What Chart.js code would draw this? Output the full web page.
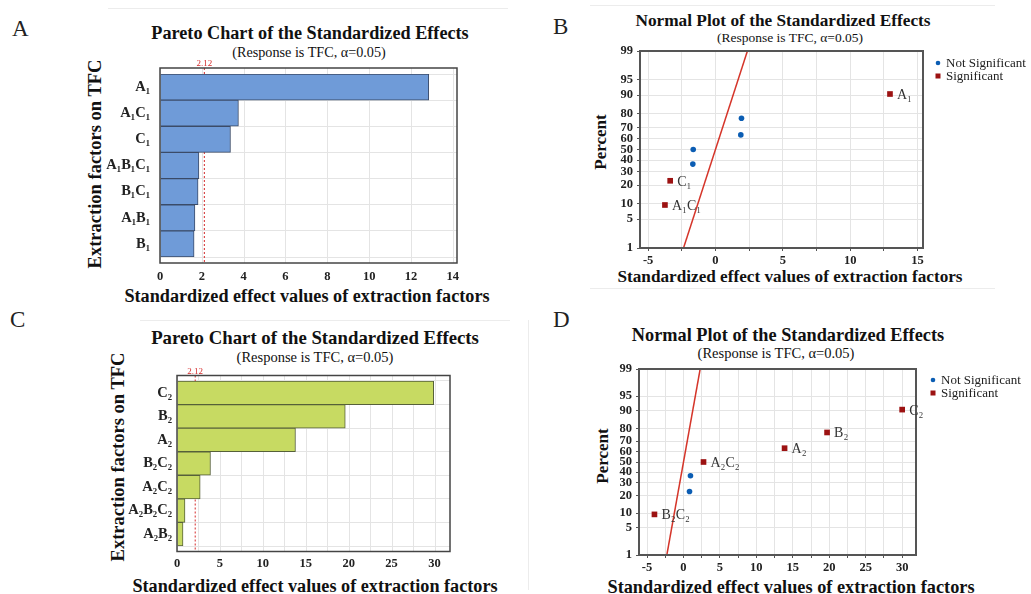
<!DOCTYPE html>
<html>
<head>
<meta charset="utf-8">
<script src="https://cdn.jsdelivr.net/npm/chart.js@4.4.1/dist/chart.umd.min.js"></script>
<style>
  html, body { margin: 0; padding: 0; background: #fff; width: 1031px; height: 594px; overflow: hidden; }
  body { position: relative; font-family: "Liberation Serif", "Times New Roman", serif; color: #111; }
  canvas { position: absolute; }
  .tag { position: absolute; font-size: 23px; color: #222; line-height: 1; }
  .rule { position: absolute; background: #ececec; }
  .t { position: absolute; white-space: nowrap; line-height: 1; transform: translate(-50%, -50%); }
  .b { font-weight: bold; }
  .v { transform: translate(-50%, -50%) rotate(-90deg); }
</style>
</head>
<body>
<div class="rule" style="left:108px;top:8px;width:400px;height:1px"></div>
<div class="rule" style="left:590px;top:5px;width:405px;height:1px"></div>
<div class="rule" style="left:590px;top:288px;width:405px;height:1px"></div>
<div class="rule" style="left:140px;top:320px;width:370px;height:1px"></div>
<div class="rule" style="left:528px;top:320px;width:1px;height:270px"></div>

<div class="tag" style="left:12px;top:17px">A</div>
<div class="tag" style="left:553px;top:15px">B</div>
<div class="tag" style="left:10px;top:308px">C</div>
<div class="tag" style="left:553px;top:308px">D</div>

<!-- panel A texts -->
<div class="t b" style="left:310px;top:33px;font-size:18.2px">Pareto Chart of the Standardized Effects</div>
<div class="t" style="left:309px;top:52px;font-size:14.2px">(Response is TFC, α=0.05)</div>
<div class="t b" style="left:307px;top:296px;font-size:18.2px">Standardized effect values of extraction factors</div>
<div class="t b v" style="left:95px;top:164px;font-size:18.5px">Extraction factors on TFC</div>

<!-- panel B texts -->
<div class="t b" style="left:783px;top:21px;font-size:17.3px">Normal Plot of the Standardized Effects</div>
<div class="t" style="left:790px;top:38px;font-size:13.5px">(Response is TFC, α=0.05)</div>
<div class="t b" style="left:790px;top:277px;font-size:17.2px">Standardized effect values of extraction factors</div>
<div class="t b v" style="left:600px;top:142px;font-size:17px">Percent</div>

<!-- panel C texts -->
<div class="t b" style="left:315px;top:338px;font-size:18.8px">Pareto Chart of the Standardized Effects</div>
<div class="t" style="left:315px;top:357px;font-size:14.5px">(Response is TFC, α=0.05)</div>
<div class="t b" style="left:315px;top:586px;font-size:18.2px">Standardized effect values of extraction factors</div>
<div class="t b v" style="left:118px;top:457px;font-size:18.5px">Extraction factors on TFC</div>

<!-- panel D texts -->
<div class="t b" style="left:788px;top:335px;font-size:18.3px">Normal Plot of the Standardized Effects</div>
<div class="t" style="left:776px;top:353px;font-size:14.5px">(Response is TFC, α=0.05)</div>
<div class="t b" style="left:791px;top:587px;font-size:18.3px">Standardized effect values of extraction factors</div>
<div class="t b v" style="left:602px;top:456px;font-size:17px">Percent</div>

<canvas id="chartA" width="520" height="310" style="left:0;top:0"></canvas>
<canvas id="chartB" width="511" height="300" style="left:520px;top:0"></canvas>
<canvas id="chartC" width="520" height="300" style="left:0;top:300px"></canvas>
<canvas id="chartD" width="511" height="300" style="left:520px;top:300px"></canvas>

<script>
const SERIF = '"Liberation Serif", "Times New Roman", serif';

// Pareto A: first extraction
const paretoALabels = ['A₁', 'A₁C₁', 'C₁', 'A₁B₁C₁', 'B₁C₁', 'A₁B₁', 'B₁'];
const paretoAValues = [12.85, 3.75, 3.37, 1.86, 1.82, 1.67, 1.63];

// Pareto C: second extraction
const paretoCLabels = ['C₂', 'B₂', 'A₂', 'B₂C₂', 'A₂C₂', 'A₂B₂C₂', 'A₂B₂'];
const paretoCValues = [29.9, 19.6, 13.8, 3.9, 2.7, 0.93, 0.7];

const criticalT = 2.12;

// normal probability axis
const percentTicks = [1, 5, 10, 20, 30, 40, 50, 60, 70, 80, 90, 95, 99];

// Normal plot B
const normBNotSigX = [-1.68, -1.65, 1.88, 1.93];
const normBNotSigPct = [36.5, 50, 63.5, 77];
const normBSigLabels = ['A₁C₁', 'C₁', 'A₁'];
const normBSigX = [-3.75, -3.36, 12.95];
const normBSigPct = [9.5, 23, 90.5];
const normBFitX = [-2.37, 2.37];
const normBFitPct = [1, 99];

// Normal plot D
const normDNotSigX = [0.83, 0.96];
const normDNotSigPct = [23, 36.5];
const normDSigLabels = ['B₂C₂', 'A₂C₂', 'A₂', 'B₂', 'C₂'];
const normDSigX = [-3.98, 2.75, 13.87, 19.7, 30.0];
const normDSigPct = [9.5, 50, 63.5, 77, 90.5];
const normDFitX = [-2.28, 2.29];
const normDFitPct = [1, 99];

// inverse normal cdf (Acklam)
function probit(p) {
  const a = [-39.69683028665376, 220.9460984245205, -275.9285104469687, 138.3577518672690, -30.66479806614716, 2.506628277459239];
  const b = [-54.47609879822406, 161.5858368580409, -155.6989798598866, 66.80131188771972, -13.28068155288572];
  const c = [-0.007784894002430293, -0.3223964580411365, -2.400758277161838, -2.549732539343734, 4.374664141464968, 2.938163982698783];
  const d = [0.007784695709041462, 0.3224671290700398, 2.445134137142996, 3.754408661907416];
  const lo = 0.02425;
  if (p < lo) {
    const q = Math.sqrt(-2 * Math.log(p));
    return (((((c[0]*q+c[1])*q+c[2])*q+c[3])*q+c[4])*q+c[5]) / ((((d[0]*q+d[1])*q+d[2])*q+d[3])*q+1);
  }
  if (p > 1 - lo) {
    const q = Math.sqrt(-2 * Math.log(1 - p));
    return -(((((c[0]*q+c[1])*q+c[2])*q+c[3])*q+c[4])*q+c[5]) / ((((d[0]*q+d[1])*q+d[2])*q+d[3])*q+1);
  }
  const q = p - 0.5, r = q * q;
  return (((((a[0]*r+a[1])*r+a[2])*r+a[3])*r+a[4])*r+a[5])*q / (((((b[0]*r+b[1])*r+b[2])*r+b[3])*r+b[4])*r+1);
}

const GRID = '#e4e4e4';
const BLUE = '#0b5db3';
const DARKRED = '#9c1212';
const FITRED = '#d5352a';

function line(ctx, x1, y1, x2, y2) {
  ctx.beginPath(); ctx.moveTo(x1, y1); ctx.lineTo(x2, y2); ctx.stroke();
}

// grid + critical line + frame for the pareto charts
const paretoDecor = {
  id: 'paretoDecor',
  beforeDatasetsDraw(chart, args, opts) {
    const { ctx, chartArea: a, scales: { x } } = chart;
    const pad = opts.pad;
    ctx.save();
    ctx.strokeStyle = GRID;
    ctx.lineWidth = 1;
    x.ticks.forEach(t => {
      const px = Math.round(x.getPixelForValue(t.value)) + 0.5;
      line(ctx, px, a.top - pad, px, a.bottom + pad);
    });
    const cx = x.getPixelForValue(opts.critical);
    ctx.strokeStyle = '#d42a2a';
    ctx.setLineDash([2, 2]);
    line(ctx, cx, a.top - pad, cx, a.bottom + pad);
    ctx.setLineDash([]);
    ctx.fillStyle = '#d42a2a';
    ctx.font = '9px ' + SERIF;
    ctx.textAlign = 'center';
    ctx.fillText(String(opts.critical), cx, a.top - pad - 2);
    ctx.restore();
  },
  afterDatasetsDraw(chart, args, opts) {
    const { ctx, chartArea: a } = chart;
    ctx.save();
    ctx.strokeStyle = '#444';
    ctx.lineWidth = 1.5;
    ctx.strokeRect(a.left, a.top - opts.pad, a.right - a.left, a.bottom - a.top + 2 * opts.pad);
    ctx.restore();
  }
};

// frame, legend and point labels for the normal plots
const normalDecor = {
  id: 'normalDecor',
  afterDatasetsDraw(chart, args, opts) {
    const { ctx, chartArea: a } = chart;
    ctx.save();
    ctx.strokeStyle = '#555';
    ctx.lineWidth = 2;
    ctx.strokeRect(a.left, a.top, a.right - a.left, a.bottom - a.top);

    // labels on significant effects
    ctx.fillStyle = '#333';
    ctx.font = '14px ' + SERIF;
    ctx.textAlign = 'left';
    ctx.textBaseline = 'alphabetic';
    chart.getDatasetMeta(1).data.forEach((pt, i) => {
      ctx.fillText(opts.labels[i], pt.x + 7, pt.y + 5);
    });

    // legend
    ctx.font = '13px ' + SERIF;
    ctx.textBaseline = 'middle';
    [0, 1].forEach(i => {
      const ds = chart.data.datasets[i];
      const mx = a.right + opts.legendX;
      const my = a.top + opts.legendY + i * 13;
      ctx.fillStyle = ds.backgroundColor;
      if (ds.pointStyle === 'circle') {
        ctx.beginPath(); ctx.arc(mx, my, 2.3, 0, Math.PI * 2); ctx.fill();
      } else {
        ctx.fillRect(mx - 2.5, my - 2.5, 5, 5);
      }
      ctx.fillStyle = '#222';
      ctx.fillText(ds.label, mx + 8, my + 1);
    });
    ctx.restore();
  }
};

function makePareto(id, cfg) {
  return new Chart(document.getElementById(id), {
    type: 'bar',
    data: {
      labels: cfg.labels,
      datasets: [{
        data: cfg.values,
        backgroundColor: cfg.fill,
        borderColor: cfg.edge,
        borderWidth: 1,
        barPercentage: 1,
        categoryPercentage: 1
      }]
    },
    options: {
      indexAxis: 'y',
      responsive: false,
      animation: false,
      devicePixelRatio: 1,
      layout: { padding: { left: 0, right: cfg.padRight, top: cfg.padTop, bottom: 0 } },
      plugins: {
        legend: { display: false },
        tooltip: { enabled: false },
        paretoDecor: { pad: cfg.framePad, critical: criticalT }
      },
      scales: {
        x: {
          min: 0, max: cfg.xMax,
          ticks: {
            stepSize: cfg.step, includeBounds: false,
            callback: v => (Math.abs(v % cfg.labelEvery) < 1e-9 ? v : ''),
            font: { family: SERIF, size: 12.5, weight: 'bold' }, color: '#222',
            padding: cfg.xTickPad, maxRotation: 0
          },
          grid: { drawOnChartArea: false, drawTicks: false },
          border: { display: false },
          afterFit: s => { s.height = cfg.xAxisH; }
        },
        y: {
          ticks: { font: { family: SERIF, size: 14.5, weight: 'bold' }, color: '#222', padding: cfg.yTickPad, autoSkip: false },
          grid: { color: GRID, drawTicks: false },
          border: { display: false },
          afterFit: s => { s.width = cfg.yAxisW; }
        }
      }
    },
    plugins: [paretoDecor]
  });
}

function makeNormal(id, cfg) {
  const toPts = (xs, ps) => xs.map((x, i) => ({ x: x, y: probit(ps[i] / 100) }));
  return new Chart(document.getElementById(id), {
    type: 'scatter',
    data: {
      datasets: [
        { label: 'Not Significant', data: toPts(cfg.nsX, cfg.nsPct), pointStyle: 'circle', pointRadius: 2.8,
          backgroundColor: BLUE, borderColor: BLUE, borderWidth: 0 },
        { label: 'Significant', data: toPts(cfg.sX, cfg.sPct), pointStyle: 'rect', pointRadius: 4,
          backgroundColor: DARKRED, borderColor: DARKRED, borderWidth: 0 },
        { label: 'fit', data: toPts(cfg.fitX, cfg.fitPct), showLine: true, pointRadius: 0,
          borderColor: FITRED, borderWidth: 1.5, fill: false }
      ]
    },
    options: {
      responsive: false,
      animation: false,
      devicePixelRatio: 1,
      layout: { padding: { left: 0, right: cfg.padRight, top: cfg.padTop, bottom: 0 } },
      plugins: {
        legend: { display: false },
        tooltip: { enabled: false },
        normalDecor: { labels: cfg.sLabels, legendX: cfg.legendX, legendY: cfg.legendY }
      },
      scales: {
        x: {
          type: 'linear', min: cfg.xMin, max: cfg.xMax,
          ticks: {
            stepSize: 2.5, includeBounds: false,
            callback: v => (Math.abs(v % 5) < 1e-9 ? v : ''),
            font: { family: SERIF, size: 12.5, weight: 'bold' }, color: '#222', padding: 2, maxRotation: 0
          },
          grid: { color: GRID, tickLength: 3, tickColor: '#555' },
          border: { display: false },
          afterFit: s => { s.height = cfg.xAxisH; }
        },
        y: {
          type: 'linear', min: probit(0.01), max: probit(0.99),
          afterBuildTicks: s => { s.ticks = percentTicks.map(p => ({ value: probit(p / 100) })); },
          ticks: {
            autoSkip: false,
            callback: (v, i) => percentTicks[i],
            font: { family: SERIF, size: 12.5, weight: 'bold' }, color: '#222', padding: 4
          },
          grid: { color: GRID, tickLength: 3, tickColor: '#555' },
          border: { display: false },
          afterFit: s => { s.width = cfg.yAxisW; }
        }
      }
    },
    plugins: [normalDecor]
  });
}

makePareto('chartA', {
  labels: paretoALabels, values: paretoAValues,
  fill: '#6f9bd8', edge: '#3b4b68',
  xMax: 14.2, step: 2, labelEvery: 2,
  padRight: 63, padTop: 74,
  framePad: 6, xTickPad: 12, xAxisH: 53,
  yTickPad: 10, yAxisW: 160
});

makePareto('chartC', {
  labels: paretoCLabels, values: paretoCValues,
  fill: '#c7da62', edge: '#56603a',
  xMax: 31.8, step: 2.5, labelEvery: 5,
  padRight: 70, padTop: 81,
  framePad: 5.5, xTickPad: 10, xAxisH: 54,
  yTickPad: 5, yAxisW: 177
});

makeNormal('chartB', {
  nsX: normBNotSigX, nsPct: normBNotSigPct,
  sX: normBSigX, sPct: normBSigPct, sLabels: normBSigLabels,
  fitX: normBFitX, fitPct: normBFitPct,
  xMin: -5.6, xMax: 15.4,
  padRight: 108, padTop: 51, xAxisH: 52, yAxisW: 120,
  legendX: 15, legendY: 12
});

makeNormal('chartD', {
  nsX: normDNotSigX, nsPct: normDNotSigPct,
  sX: normDSigX, sPct: normDSigPct, sLabels: normDSigLabels,
  fitX: normDFitX, fitPct: normDFitPct,
  xMin: -6.1, xMax: 31.9,
  padRight: 115, padTop: 69, xAxisH: 45, yAxisW: 119,
  legendX: 17, legendY: 11
});
</script>
</body>
</html>
